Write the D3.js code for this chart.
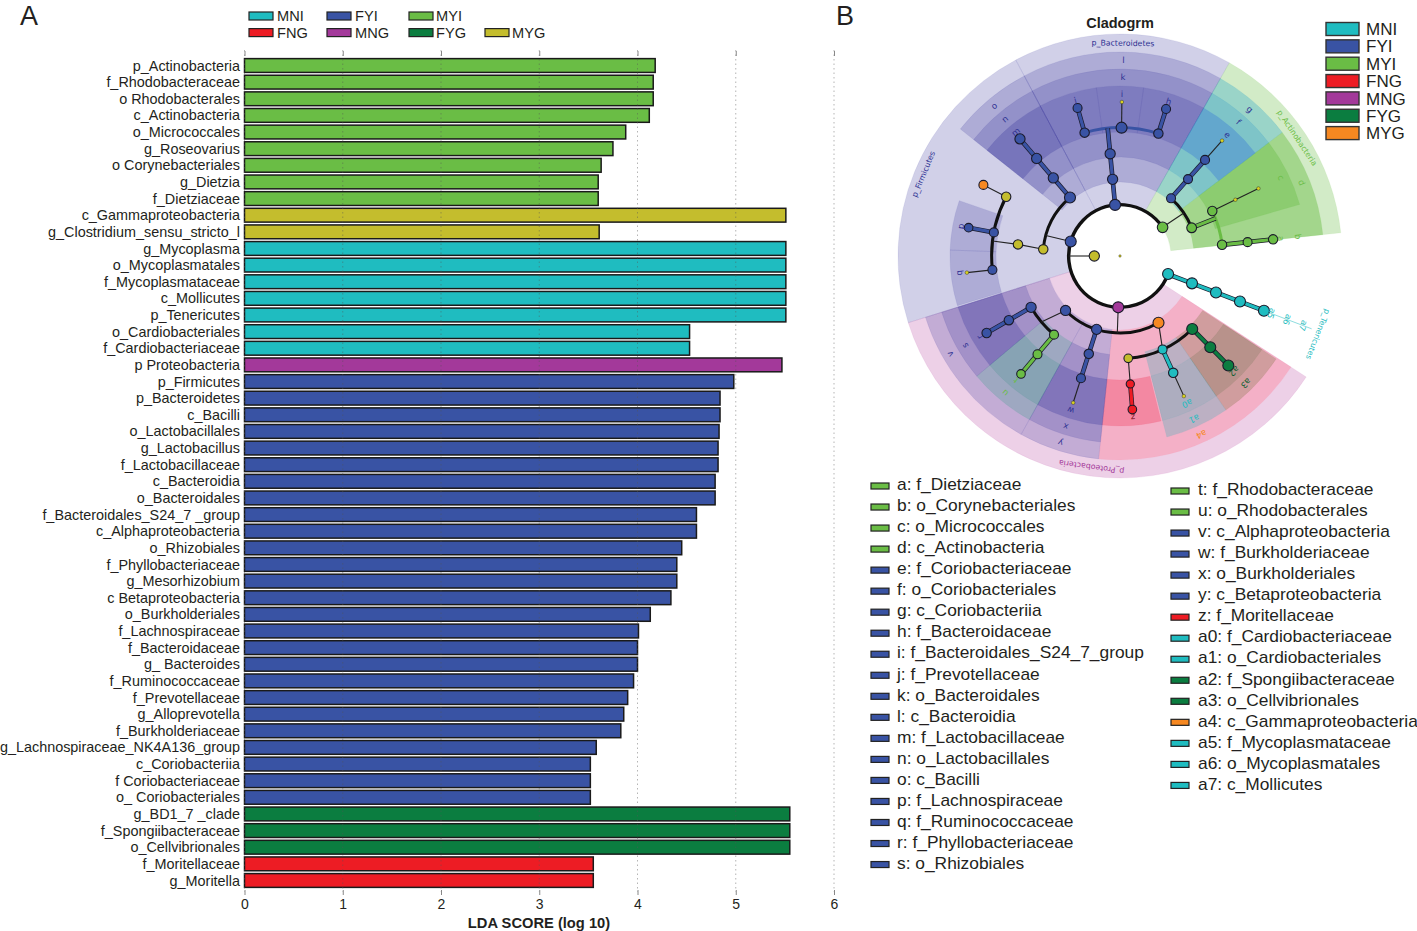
<!DOCTYPE html>
<html><head><meta charset="utf-8">
<script src="https://cdn.jsdelivr.net/npm/d3@7"></script>
<style>html,body{margin:0;padding:0;background:#fff}svg{display:block}text{font-family:"Liberation Sans",Arial,sans-serif;fill:#231f20}</style>
</head><body><svg id="c" width="1417" height="931"></svg>
<script>
const taxa=["p_Actinobacteria","f_Rhodobacteraceae","o Rhodobacterales","c_Actinobacteria","o_Micrococcales","g_Roseovarius","o Corynebacteriales","g_Dietzia","f_Dietziaceae","c_Gammaproteobacteria","g_Clostridium_sensu_stricto_l","g_Mycoplasma","o_Mycoplasmatales","f_Mycoplasmataceae","c_Mollicutes","p_Tenericutes","o_Cardiobacteriales","f_Cardiobacteriaceae","p Proteobacteria","p_Firmicutes","p_Bacteroidetes","c_Bacilli","o_Lactobacillales","g_Lactobacillus","f_Lactobacillaceae","c_Bacteroidia","o_Bacteroidales","f_Bacteroidales_S24_7 _group","c_Alphaproteobacteria","o_Rhizobiales","f_Phyllobacteriaceae","g_Mesorhizobium","c Betaproteobacteria","o_Burkholderiales","f_Lachnospiraceae","f_Bacteroidaceae","g_ Bacteroides","f_Ruminococcaceae","f_Prevotellaceae","g_Alloprevotella","f_Burkholderiaceae","g_Lachnospiraceae_NK4A136_group","c_Coriobacteriia","f Coriobacteriaceae","o_ Coriobacteriales","g_BD1_7 _clade","f_Spongiibacteraceae","o_Cellvibrionales","f_Moritellaceae","g_Moritella"];
const scores=[4.18,4.16,4.16,4.12,3.88,3.75,3.63,3.6,3.6,5.51,3.61,5.51,5.51,5.51,5.51,5.51,4.53,4.53,5.47,4.98,4.84,4.84,4.83,4.82,4.82,4.79,4.79,4.6,4.6,4.45,4.4,4.4,4.34,4.13,4.01,4.0,4.0,3.96,3.9,3.86,3.83,3.58,3.52,3.52,3.52,5.55,5.55,5.55,3.55,3.55];
const groups=["MYI","MYI","MYI","MYI","MYI","MYI","MYI","MYI","MYI","MYG","MYG","MNI","MNI","MNI","MNI","MNI","MNI","MNI","MNG","FYI","FYI","FYI","FYI","FYI","FYI","FYI","FYI","FYI","FYI","FYI","FYI","FYI","FYI","FYI","FYI","FYI","FYI","FYI","FYI","FYI","FYI","FYI","FYI","FYI","FYI","FYG","FYG","FYG","FNG","FNG"];
const ticksLDA=[0,1,2,3,4,5,6];
const colorOf={MNI:"#1fbcc0",FYI:"#3953a4",MYI:"#6abd45",FNG:"#ed1c24",MNG:"#a3399a",FYG:"#0b7d40",MYG:"#c4bd2d",ORG:"#f68821",SMALL:"#d9d21f"};
const legendA=[["MNI","FYI","MYI"],["FNG","MNG","FYG","MYG"]];
const legendB=["MNI","FYI","MYI","FNG","MNG","FYG","MYG"];
const legendBColor=["MNI","FYI","MYI","FNG","MNG","FYG","ORG"];
const keyLeft=[["a: f_Dietziaceae","MYI"],["b: o_Corynebacteriales","MYI"],["c: o_Micrococcales","MYI"],["d: c_Actinobacteria","MYI"],["e: f_Coriobacteriaceae","FYI"],["f: o_Coriobacteriales","FYI"],["g: c_Coriobacteriia","FYI"],["h: f_Bacteroidaceae","FYI"],["i: f_Bacteroidales_S24_7_group","FYI"],["j: f_Prevotellaceae","FYI"],["k: o_Bacteroidales","FYI"],["l: c_Bacteroidia","FYI"],["m: f_Lactobacillaceae","FYI"],["n: o_Lactobacillales","FYI"],["o: c_Bacilli","FYI"],["p: f_Lachnospiraceae","FYI"],["q: f_Ruminococcaceae","FYI"],["r: f_Phyllobacteriaceae","FYI"],["s: o_Rhizobiales","FYI"]];
const keyRight=[["t: f_Rhodobacteraceae","MYI"],["u: o_Rhodobacterales","MYI"],["v: c_Alphaproteobacteria","FYI"],["w: f_Burkholderiaceae","FYI"],["x: o_Burkholderiales","FYI"],["y: c_Betaproteobacteria","FYI"],["z: f_Moritellaceae","FNG"],["a0: f_Cardiobacteriaceae","MNI"],["a1: o_Cardiobacteriales","MNI"],["a2: f_Spongiibacteraceae","FYG"],["a3: o_Cellvibrionales","FYG"],["a4: c_Gammaproteobacteria","ORG"],["a5: f_Mycoplasmataceae","MNI"],["a6: o_Mycoplasmatales","MNI"],["a7: c_Mollicutes","MNI"]];
// cladogram shaded sectors: start angle, end angle, depth (0 phylum..3 family), colour, opacity
const sectors=[
[-28,29.5,0,"#3f3c9f",.24],[29.5,84,0,"#6abd45",.3],[252.5,332,0,"#3f3c9f",.24],[123,252.5,0,"#b3399a",.24],
[-28,29.5,1,"#3f3c9f",.24],[-51.5,-28,1,"#3f3c9f",.24],[29.5,52.7,1,"#1a9fc9",.3],[52.7,84,1,"#6abd45",.45],[123,186,1,"#fb8fa8",.5],[186,209,1,"#3f3c9f",.24],[209,252.5,1,"#3f3c9f",.24],
[-28,29.5,2,"#3f3c9f",.24],[-51.5,-28,2,"#3f3c9f",.24],[29.5,52.7,2,"#1a8fc9",.22],[52.7,74,2,"#6abd45",.4],[123.4,145.5,2,"#7d7040",.3],[145.5,165.5,2,"#3cb0b8",.3],[186,209,2,"#3f3c9f",.24],[209,230,2,"#3f9f90",.28],[230,252.5,2,"#3f3c9f",.24],
[-28,-8,3,"#3f3c9f",.24],[-8,8,3,"#3f3c9f",.24],[8,29.5,3,"#3f3c9f",.24],[29.5,52.7,3,"#3f7fd5",.42],[-51.5,-28,3,"#3f3c9f",.32],[272,289,3,"#3f3c9f",.24],[253,272,3,"#3f3c9f",.24],[166,186,3,"#f0405f",.35],[145.5,165.5,3,"#3f9fa8",.12],[123.4,145.5,3,"#5a6a40",.2],[186,209,3,"#3f3c9f",.32],[209,230,3,"#2f8f80",.2],[230,252.5,3,"#3f3c9f",.32]];
// circular arcs of the tree: level, start, end, colour, width
const arcsT=[[1,110.6,416,"#111",3.4],[2,41.5,68.5,"#111",3],[2,-85,-40.6,"#111",3],[2,150,225,"#111",3],[3,135.5,175.4,"#111",3],[3,220,240,"#111",3],[4,-62.5,-96.2,"#111",3],[4,-16,17.4,"#3953a4",3],[3,64,83.7,"#6abd45",3]];
// radial links: angle from, level from, angle to, level to, colour, thick
const linksT=[
[56,1,56,2,"#222",0],[-5.5,1,-5.5,2,"#3953a4",1],[-5.5,2,-5.5,3,"#3953a4",1],[-5.5,3,-5.5,4,"#3953a4",1],
[-16,4,-16,5,"#3953a4",1],[.7,4,.7,5,"#222",0],[17.4,4,17.4,5,"#3953a4",1],
[41.5,2,41.5,3,"#3953a4",1],[41.5,3,41.5,4,"#3953a4",1],[41.5,4,41.5,5,"#222",0],
[68.5,2,68.5,3,"#6abd45",1],[64,3,64,4,"#222",0],[64,4,64,5,"#222",0],[83.8,3,83.8,4,"#6abd45",1],[83.8,4,83.8,5,"#6abd45",1],
[110.8,1,110.8,2,"#1fbcc0",1],[110.8,2,110.8,3,"#1fbcc0",1],[110.8,3,110.8,4,"#1fbcc0",1],[110.8,4,110.8,5,"#1fbcc0",1],
[-73.6,1,-74.5,2,"#222",0],[270,0,270,1,"#222",0],
[-40.5,2,-40.5,3,"#3953a4",1],[-40.5,3,-40.5,4,"#3953a4",1],[-40.5,4,-40.5,5,"#3953a4",1],
[275,2,276.5,3,"#222",0],[276.5,3,276.7,4,"#222",0],[297.5,4,297.5,5,"#222",0],[280.6,4,280.6,5,"#3953a4",1],[263.8,4,263.8,5,"#222",0],
[182,1,182,2,"#222",0],[225,2,230,3,"#222",0],[240,3,240,4,"#3953a4",1],[240,4,240,5,"#3953a4",1],[220,3,220,4,"#6abd45",1],[220,4,220,5,"#6abd45",1],
[197.7,2,197.7,3,"#3953a4",1],[197.7,3,197.7,4,"#3953a4",1],[197.7,4,197.7,5,"#222",0],
[150,2,155.5,3,"#222",0],[175.4,3,175.4,4,"#222",0],[175.4,4,175.4,5,"#ed1c24",1],[155.5,3,155.5,4,"#1fbcc0",1],[155.5,4,155.5,5,"#222",0],[135.3,3,135.3,4,"#0b7d40",1],[135.3,4,135.3,5,"#0b7d40",1]];
// nodes: angle, level, group, radius
const nodesT=[
[0,-1,"SMALL",1.2],[270,0,"MYG",4.6],
[56,1,"MYI",4.8],[-5.5,1,"FYI",5],[-73.6,1,"FYI",5],[182,1,"MNG",5],[110.6,1,"MNI",5],
[-5.5,2,"FYI",4.6],[-5.5,3,"FYI",4.6],[-16,4,"FYI",4.2],[.7,4,"FYI",5],[17.4,4,"FYI",4.2],[-16,5,"FYI",4],[.7,5,"SMALL",1.8],[17.4,5,"FYI",4],
[41.5,2,"FYI",4],[41.5,3,"FYI",4],[41.5,4,"FYI",4],[41.5,5,"SMALL",1.8],
[68.5,2,"MYI",4.4],[64,3,"MYI",4.2],[64,4,"SMALL",1.8],[64,5,"SMALL",1.8],[83.7,3,"MYI",4.2],[83.8,4,"MYI",4],[83.8,5,"MYI",4.2],
[110.8,2,"MNI",5],[110.8,3,"MNI",5],[110.8,4,"MNI",5],[110.8,5,"MNI",5],
[-85,2,"MYG",4.2],[-40.5,2,"FYI",5],[-40.5,3,"FYI",4.6],[-40.5,4,"FYI",4.6],[-40.5,5,"FYI",4.6],
[276.5,3,"MYG",4.2],[297.5,4,"MYG",4.2],[280.6,4,"FYI",4],[263.8,4,"FYI",4],[297.5,5,"ORG",4],[280.6,5,"FYI",3.8],[263.8,5,"SMALL",1.8],
[225,2,"FYI",4.6],[197.7,2,"FYI",4.6],[150,2,"ORG",5],[240,3,"FYI",4.6],[240,4,"FYI",4.2],[240,5,"FYI",4.2],[220,3,"MYI",4],[220,4,"MYI",4],[220,5,"MYI",3.8],
[197.7,3,"FYI",4.2],[197.7,4,"FYI",4],[197.7,5,"SMALL",1.8],[175.4,3,"MYG",3.8],[155.5,3,"MNI",4],[135.3,3,"FYG",5],[175.4,4,"FNG",3.6],[175.4,5,"FNG",3.8],[155.5,4,"MNI",4.2],[155.5,5,"SMALL",1.8],[135.3,4,"FYG",5],[135.3,5,"FYG",5]];
// sector letters: text, angle, radius offset level, colour, size
const labelsT=[["l",1,2,"#2e3192"],["k",1,1,"#2e3192"],["i",.7,0,"#2e3192"],["j",-16,0,"#2e3192"],["h",17.5,0,"#2e3192"],["o",-40,2,"#2e3192"],["n",-40,1,"#2e3192"],["m",-40,0,"#2e3192"],["p",280.6,0,"#2e3192"],["q",264,0,"#2e3192"],["e",41.5,0,"#2e3192"],["f",41.5,1,"#2e3192"],["g",41.5,2,"#2e3192"],["a",83.8,0,"#6abd45"],["b",83.8,1,"#6abd45"],["c",64,1,"#6abd45"],["d",68,2,"#6abd45"],["r",240,0,"#2e3192"],["s",240,1,"#2e3192"],["v",240,2,"#2e3192"],["t",220,0,"#6abd45"],["u",220,1,"#6abd45"],["w",197.7,0,"#2e3192"],["x",197.7,1,"#2e3192"],["y",197.7,2,"#2e3192"],["z",175.4,0,"#7b1020"],["a0",155.5,0,"#1fbcc0"],["a1",155.5,1,"#1fbcc0"],["a2",135.3,0,"#0b5d30"],["a3",135.3,1,"#0b5d30"],["a4",155.5,2,"#f68821"],["a5",110.8,0,"#1fbcc0"],["a6",110.8,1,"#1fbcc0"],["a7",110.8,2,"#1fbcc0"]];
const phylaT=[["p_Bacteroidetes",.8,"#2e3192"],["p_Firmicutes",-67.4,"#2e3192"],["p_Actinobacteria",56.3,"#6abd45"],["p_Proteobacteria",187.7,"#a3399a"],["p_Tenericutes",111.6,"#1fbcc0"]];

const svg=d3.select("#c");
// ---- Panel A
const x=d3.scaleLinear().domain([0,6]).range([244.5,834]);
const y=d3.scaleBand().domain(taxa).range([57.2,888.8]).paddingInner(.17).paddingOuter(.085);
const A=svg.append("g");
A.selectAll("rect.bar").data(taxa).join("rect").attr("class","bar")
 .attr("x",x(0)).attr("y",d=>y(d)).attr("width",(d,i)=>x(scores[i])-x(0)).attr("height",y.bandwidth())
 .attr("fill",(d,i)=>colorOf[groups[i]]).attr("stroke","#1a1a1a").attr("stroke-width",1.5);
A.selectAll("text.lab").data(taxa).join("text").attr("class","lab")
 .attr("x",240).attr("y",d=>y(d)+y.bandwidth()/2).attr("dy","0.35em").attr("text-anchor","end")
 .attr("font-size",14.4).text(d=>d);
A.selectAll("line.grid").data(ticksLDA).join("line").attr("class","grid")
 .attr("x1",d=>x(d)).attr("x2",d=>x(d)).attr("y1",50).attr("y2",892)
 .attr("stroke","#555").attr("stroke-opacity",.55).attr("stroke-width",.8).attr("stroke-dasharray","1.5 3");
const axis=d3.axisBottom(x).tickValues(ticksLDA).tickSize(5).tickFormat(d3.format("d"));
const ax=A.append("g").attr("transform","translate(0,890)").call(axis);
ax.select(".domain").remove();
ax.selectAll("line").attr("stroke","#888");
ax.selectAll("text").attr("font-size",14).attr("y",9);
const axT=d3.axisTop(x).tickValues(ticksLDA).tickSize(5).tickFormat("");
const ax2=A.append("g").attr("transform","translate(0,56)").call(axT);
ax2.select(".domain").remove();ax2.selectAll("line").attr("stroke","#888");
A.append("text").attr("x",539).attr("y",928).attr("text-anchor","middle").attr("font-size",14.7).attr("font-weight","bold").text("LDA SCORE (log 10)");
svg.append("text").attr("x",20).attr("y",25).attr("font-size",27).text("A");
svg.append("text").attr("x",836).attr("y",25).attr("font-size",27).text("B");
const legX=[249,327,409,485];
legendA.forEach((row,r)=>row.forEach((k,i)=>{
 const yy=16+r*16.6;
 svg.append("rect").attr("x",legX[i]).attr("y",yy-4).attr("width",24).attr("height",8).attr("fill",colorOf[k]).attr("stroke","#222").attr("stroke-width",1.2);
 svg.append("text").attr("x",legX[i]+(i<2?28:27)).attr("y",yy).attr("dy","0.36em").attr("font-size",14.6).text(k);
}));
// ---- Panel B
const C=svg.append("g").attr("transform","translate(1120,256)");
const rad=d3.scaleLinear().domain([0,5]).range([25.7,154]);
const ang=d3.scaleLinear().domain([0,360]).range([0,2*Math.PI]);
const inner=[51,74,99,124],outer=[222,204,187,170],labR=[162,179,196];
const arc=d3.arc();
C.selectAll("path.sec").data(sectors).join("path").attr("class","sec")
 .attr("d",s=>arc({innerRadius:inner[s[2]],outerRadius:outer[s[2]],startAngle:ang(s[0]),endAngle:ang(s[1])}))
 .attr("fill",s=>s[3]).attr("fill-opacity",s=>s[4]).attr("stroke",s=>s[3]).attr("stroke-opacity",.12).attr("stroke-width",.7);
C.selectAll("path.arcT").data(arcsT).join("path").attr("class","arcT")
 .attr("d",a=>arc({innerRadius:rad(a[0]),outerRadius:rad(a[0]),startAngle:ang(a[1]),endAngle:ang(a[2])}))
 .attr("fill","none").attr("stroke",a=>a[3]).attr("stroke-width",a=>a[4]);
const pos=(a,l)=>d3.pointRadial(ang(a),rad(l));
const thick=linksT.filter(l=>l[5]);
C.selectAll("line.out").data(thick).join("line").attr("class","out")
 .attr("x1",l=>pos(l[0],l[1])[0]).attr("y1",l=>pos(l[0],l[1])[1]).attr("x2",l=>pos(l[2],l[3])[0]).attr("y2",l=>pos(l[2],l[3])[1])
 .attr("stroke","#1a1a2a").attr("stroke-width",4.6);
C.selectAll("line.lnk").data(linksT).join("line").attr("class","lnk")
 .attr("x1",l=>pos(l[0],l[1])[0]).attr("y1",l=>pos(l[0],l[1])[1]).attr("x2",l=>pos(l[2],l[3])[0]).attr("y2",l=>pos(l[2],l[3])[1])
 .attr("stroke",l=>l[4]).attr("stroke-width",l=>l[5]?3.2:1.1);
// faint cyan spine and the tick beside the p_Tenericutes label
C.selectAll("line.ten").data(labelsT.filter(l=>l[0]=="a7")).join("line").attr("class","ten")
 .attr("x1",l=>d3.pointRadial(ang(l[1]),154)[0]).attr("y1",l=>d3.pointRadial(ang(l[1]),154)[1])
 .attr("x2",l=>d3.pointRadial(ang(l[1]),205)[0]).attr("y2",l=>d3.pointRadial(ang(l[1]),205)[1])
 .attr("stroke","#1fbcc0").attr("stroke-opacity",.5).attr("stroke-width",1);
C.selectAll("circle").data(nodesT).join("circle")
 .attr("cx",n=>pos(n[0],n[1])[0]).attr("cy",n=>pos(n[0],n[1])[1]).attr("r",n=>n[3]<2?n[3]:n[3]+.5)
 .attr("fill",n=>colorOf[n[2]]).attr("stroke","#1a1a2a").attr("stroke-width",n=>n[3]<2?.4:1.1);
const place=(r,a)=>{const p=d3.pointRadial(ang(a),r);return `translate(${p[0]},${p[1]}) rotate(${a})`;};
C.selectAll("text.let").data(labelsT).join("text").attr("class","let")
 .attr("transform",l=>place(labR[l[2]],l[1])).attr("text-anchor","middle").attr("dy","0.35em")
 .style("font-family","'DejaVu Sans'").style("fill",l=>l[3]).attr("font-size",8.5).text(l=>l[0]);
C.selectAll("text.phy").data(phylaT).join("text").attr("class","phy")
 .attr("transform",l=>place(213,l[1])).attr("text-anchor","middle").attr("dy","0.35em")
 .style("font-family","'DejaVu Sans'").style("fill",l=>l[2]).attr("font-size",7.8).text(l=>l[0]);
svg.append("text").attr("x",1120).attr("y",28).attr("text-anchor","middle").attr("font-size",14.5).attr("font-weight","bold").text("Cladogrm");
legendB.forEach((k,i)=>{
 const yy=29+i*17.35;
 svg.append("rect").attr("x",1326).attr("y",yy-6.5).attr("width",33).attr("height",13).attr("fill",colorOf[legendBColor[i]]).attr("stroke","#333").attr("stroke-width",1.4);
 svg.append("text").attr("x",1366).attr("y",yy).attr("dy","0.36em").attr("font-size",17).text(k);
});
function key(list,sx,tx,y0){
 list.forEach((k,i)=>{
  const yy=y0+i*21.03;
  svg.append("rect").attr("x",sx).attr("y",yy-1).attr("width",18).attr("height",6).attr("fill",colorOf[k[1]]).attr("stroke","#222").attr("stroke-width",1.2);
  svg.append("text").attr("x",tx).attr("y",yy).attr("dy","0.36em").attr("font-size",17.35).text(k[0]);
 });
}
key(keyLeft,871,897,484);
key(keyRight,1171,1198,489);
</script></body></html>
